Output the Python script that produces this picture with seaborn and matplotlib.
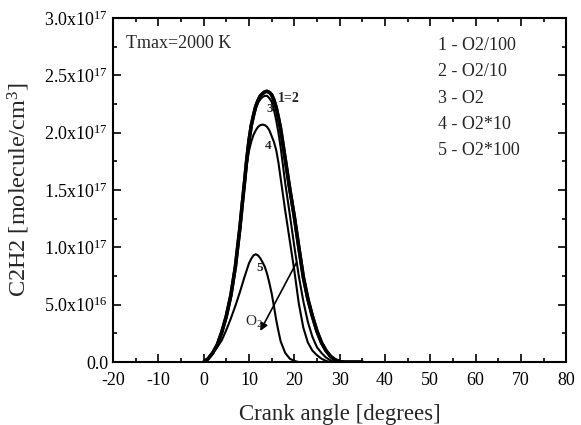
import numpy as np
import pandas as pd
import matplotlib
matplotlib.use('Agg')
import matplotlib.pyplot as plt
import seaborn as sns
from matplotlib.ticker import MultipleLocator

# crank angle [deg] and C2H2 in units of 1e17 molecule/cm3
angle = [0, 1, 2, 3, 4, 5, 6, 7, 8, 8.5, 9, 9.5, 10, 10.5, 11, 11.5, 12,
         12.5, 13, 13.5, 14, 14.5, 15, 15.5, 16, 16.5, 17, 18, 19, 20, 21,
         22, 23, 24, 25, 26, 27, 28, 29, 30, 31, 35]
c_o2_100 = [0.0, 0.03, 0.08, 0.15, 0.26, 0.40, 0.58, 0.83, 1.17, 1.37, 1.56,
            1.76, 1.93, 2.06, 2.15, 2.23, 2.28, 2.32, 2.34, 2.355, 2.36, 2.35,
            2.33, 2.285, 2.22, 2.13, 2.03, 1.77, 1.51, 1.27, 1.00, 0.74, 0.55,
            0.40, 0.27, 0.17, 0.10, 0.05, 0.02, 0.005, 0.0, 0.0]
c_o2_10 = list(c_o2_100)
c_o2 = [0.0, 0.03, 0.08, 0.15, 0.26, 0.40, 0.58, 0.83, 1.17, 1.37, 1.56,
        1.76, 1.93, 2.06, 2.14, 2.21, 2.26, 2.29, 2.31, 2.32, 2.32, 2.30,
        2.27, 2.20, 2.11, 2.00, 1.87, 1.56, 1.29, 1.01, 0.75, 0.53, 0.35,
        0.22, 0.13, 0.08, 0.04, 0.015, 0.0, 0.0, 0.0, 0.0]
c_o2_x10 = [0.0, 0.03, 0.08, 0.15, 0.26, 0.40, 0.58, 0.83, 1.17, 1.37, 1.56,
            1.72, 1.84, 1.92, 1.98, 2.02, 2.05, 2.065, 2.07, 2.065, 2.05, 2.02,
            1.97, 1.92, 1.85, 1.74, 1.60, 1.32, 1.06, 0.80, 0.51, 0.30, 0.17,
            0.10, 0.06, 0.03, 0.01, 0.0, 0.0, 0.0, 0.0, 0.0]
c_o2_x100 = [0.0, 0.03, 0.08, 0.13, 0.19, 0.28, 0.38, 0.49, 0.61, 0.675, 0.74,
             0.80, 0.86, 0.90, 0.93, 0.94, 0.93, 0.905, 0.87, 0.83, 0.77, 0.69,
             0.60, 0.49, 0.37, 0.27, 0.18, 0.08, 0.03, 0.01, 0.0, 0.0, 0.0,
             0.0, 0.0, 0.0, 0.0, 0.0, 0.0, 0.0, 0.0, 0.0]

case_names = ['1 - O2/100', '2 - O2/10', '3 - O2', '4 - O2*10', '5 - O2*100']

x_ticks = [-20, -10, 0, 10, 20, 30, 40, 50, 60, 70, 80]
y_ticks = [0.0, 0.5e17, 1.0e17, 1.5e17, 2.0e17, 2.5e17, 3.0e17]
y_tick_labels = ['0.0', '5.0x10$^{16}$', '1.0x10$^{17}$', '1.5x10$^{17}$',
                 '2.0x10$^{17}$', '2.5x10$^{17}$', '3.0x10$^{17}$']

series = [c_o2_100, c_o2_10, c_o2, c_o2_x10, c_o2_x100]
df = pd.concat([
    pd.DataFrame({'angle': angle, 'c2h2': np.array(v) * 1e17, 'case': name})
    for name, v in zip(case_names, series)
])

sns.set_style('ticks')
plt.rcParams['font.family'] = ['Liberation Serif', 'DejaVu Serif']
plt.rcParams['mathtext.fontset'] = 'custom'
plt.rcParams['mathtext.rm'] = 'Liberation Serif'
plt.rcParams['mathtext.it'] = 'Liberation Serif:italic'
plt.rcParams['mathtext.default'] = 'regular'

fig = plt.figure(figsize=(5.81, 4.25), dpi=100)
ax = fig.add_axes([0.1945, 0.148, 0.780, 0.810])

widths = [2.5, 2.5, 1.5, 1.5, 1.5]
for name, lw in zip(case_names, widths):
    sns.lineplot(data=df[df['case'] == name], x='angle', y='c2h2', ax=ax,
                 color='black', linewidth=lw, legend=False)

ax.set_xlim(-20, 80)
ax.set_ylim(0, 3.0e17)
ax.set_xticks(x_ticks)
ax.set_xticklabels([str(t) for t in x_ticks])
ax.set_yticks(y_ticks)
ax.set_yticklabels(y_tick_labels)
ax.xaxis.set_minor_locator(MultipleLocator(5))
ax.yaxis.set_minor_locator(MultipleLocator(0.25e17))
ax.tick_params(which='both', direction='in', top=True, right=True,
               labelsize=13, width=1.2, colors='black')
ax.tick_params(axis='x', pad=7)
ax.tick_params(which='major', length=6)
ax.tick_params(which='minor', length=3)
for s in ax.spines.values():
    s.set_linewidth(1.5)
    s.set_color('black')

ax.set_xlabel('Crank angle [degrees]', fontsize=16.5, labelpad=11)
ax.set_ylabel('C2H2 [molecule/cm$^3$]', fontsize=17.5, labelpad=9)

ax.text(-17.1, 2.78e17, 'Tmax=2000 K', fontsize=13, va='center')
legend_y = [2.76e17, 2.53e17, 2.30e17, 2.07e17, 1.84e17]
for name, yy in zip(case_names, legend_y):
    ax.text(51.8, yy, name, fontsize=13, va='center')

ax.text(16.3, 2.30e17, '1=2', fontsize=10, fontweight='bold', va='center')
ax.text(14.6, 2.21e17, '3', fontsize=9.5, fontweight='bold', ha='center', va='center')
ax.text(14.2, 1.88e17, '4', fontsize=9.5, fontweight='bold', ha='center', va='center')
ax.text(12.4, 0.82e17, '5', fontsize=9.5, fontweight='bold', ha='center', va='center')

ax.annotate('', xy=(12.2, 0.25e17), xytext=(20.8, 0.89e17),
            arrowprops=dict(arrowstyle='-|>', color='black', lw=1.2,
                            mutation_scale=11))
ax.text(11.1, 0.35e17, 'O$_2$', fontsize=11, ha='center', va='center')

fig.savefig('out.png', dpi=100)
